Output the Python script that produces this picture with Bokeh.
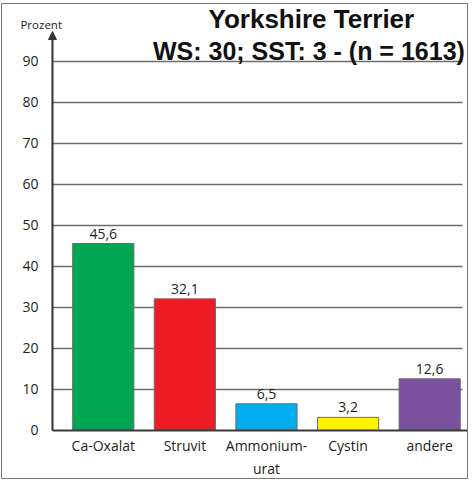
from bokeh.plotting import figure
from bokeh.models import (ColumnDataSource, Range1d, FixedTicker, Label, Arrow,
                          NormalHead, LabelSet)
from bokeh.core.properties import value
from bokeh.embed import file_html
from bokeh.resources import INLINE

categories = ["Ca-Oxalat", "Struvit", "Ammonium-\nurat", "Cystin", "andere"]
values = [45.6, 32.1, 6.5, 3.2, 12.6]
value_labels = ["45,6", "32,1", "6,5", "3,2", "12,6"]
colors = ["#00A651", "#ED1C24", "#00AEEF", "#FFF200", "#7B519E"]
y_ticks = [0, 10, 20, 30, 40, 50, 60, 70, 80, 90]

positions = list(range(len(categories)))
src = ColumnDataSource(dict(x=positions, top=values, lab=value_labels, color=colors))

# layout (data units)
X_START, X_END = -1.235, 4.488
Y_START, Y_END = -12.2, 103.9
AXIS_X = -0.6225
GRID_END = 4.40
ARROW_TOP = 97.3

p = figure(width=467, height=476, output_backend="svg", toolbar_location=None,
           x_range=Range1d(X_START, X_END), y_range=Range1d(Y_START, Y_END),
           min_border_left=0, min_border_right=0, min_border_top=0,
           min_border_bottom=0)
p.margin = (3, 0, 0, 1)
p.styles = {"border": "1px solid #7a7a7a"}
p.outline_line_color = None
p.background_fill_color = "white"
p.border_fill_color = "white"

p.vbar(x="x", top="top", bottom=0, width=0.75, source=src, fill_color="color",
       line_color="#6d6d6d", line_width=1)

p.add_layout(LabelSet(x="x", y="top", text="lab", source=src, text_align="center",
                      text_baseline="alphabetic", y_offset=5,
                      text_font=value("Open Sans"), text_font_size="14px",
                      text_color="#231f20"))

# axes
p.xaxis.fixed_location = 0
p.xaxis.bounds = (AXIS_X, X_END)
p.xaxis.ticker = FixedTicker(ticks=positions)
p.xaxis.major_label_overrides = {i: c for i, c in zip(positions, categories)}
p.xaxis.major_label_text_font = "Open Sans"
p.xaxis.major_label_text_font_size = "14px"
p.xaxis.major_label_text_color = "#231f20"
p.xaxis.major_label_standoff = 6
p.xaxis.major_tick_out = 0
p.xaxis.major_tick_in = 0
p.xaxis.minor_tick_out = 0
p.xaxis.minor_tick_in = 0
p.xaxis.axis_line_color = "#3a3a3a"
p.xaxis.axis_line_width = 2

p.yaxis.fixed_location = AXIS_X
p.yaxis.bounds = (0, 90)
p.yaxis.ticker = FixedTicker(ticks=y_ticks)
p.yaxis.major_label_text_font = "Open Sans"
p.yaxis.major_label_text_font_size = "14px"
p.yaxis.major_label_text_color = "#231f20"
p.yaxis.major_label_standoff = 14
p.yaxis.major_tick_out = 0
p.yaxis.major_tick_in = 0
p.yaxis.minor_tick_out = 0
p.yaxis.minor_tick_in = 0
p.yaxis.axis_line_color = None

p.xgrid.grid_line_color = None
p.ygrid.ticker = FixedTicker(ticks=y_ticks[1:])
p.ygrid.cross_bounds = (AXIS_X, GRID_END)
p.ygrid.grid_line_color = "#6e6e6e"
p.ygrid.grid_line_width = 1.3

p.add_layout(Arrow(end=NormalHead(size=8, fill_color="#333333", line_color="#333333"),
                   x_start=AXIS_X, y_start=0, x_end=AXIS_X, y_end=ARROW_TOP,
                   line_color="#333333", line_width=2))

p.add_layout(Label(x=-1.015, y=99.0, text="Prozent", text_font="Open Sans",
                   text_baseline="alphabetic",
                   text_font_size="11.5px", text_color="#231f20"))
p.add_layout(Label(x=2.55, y=100.27, text="Yorkshire Terrier", text_align="center",
                   text_baseline="alphabetic",
                   text_font="Liberation Sans", text_font_style="bold",
                   text_font_size="26px", text_color="#111111"))
p.add_layout(Label(x=2.52, y=92.68, text="WS: 30; SST: 3 - (n = 1613)", text_align="center",
                   text_baseline="alphabetic",
                   text_font="Liberation Sans", text_font_style="bold",
                   text_font_size="25px", text_color="#111111"))

open("out.html", "w").write(file_html(p, INLINE))
